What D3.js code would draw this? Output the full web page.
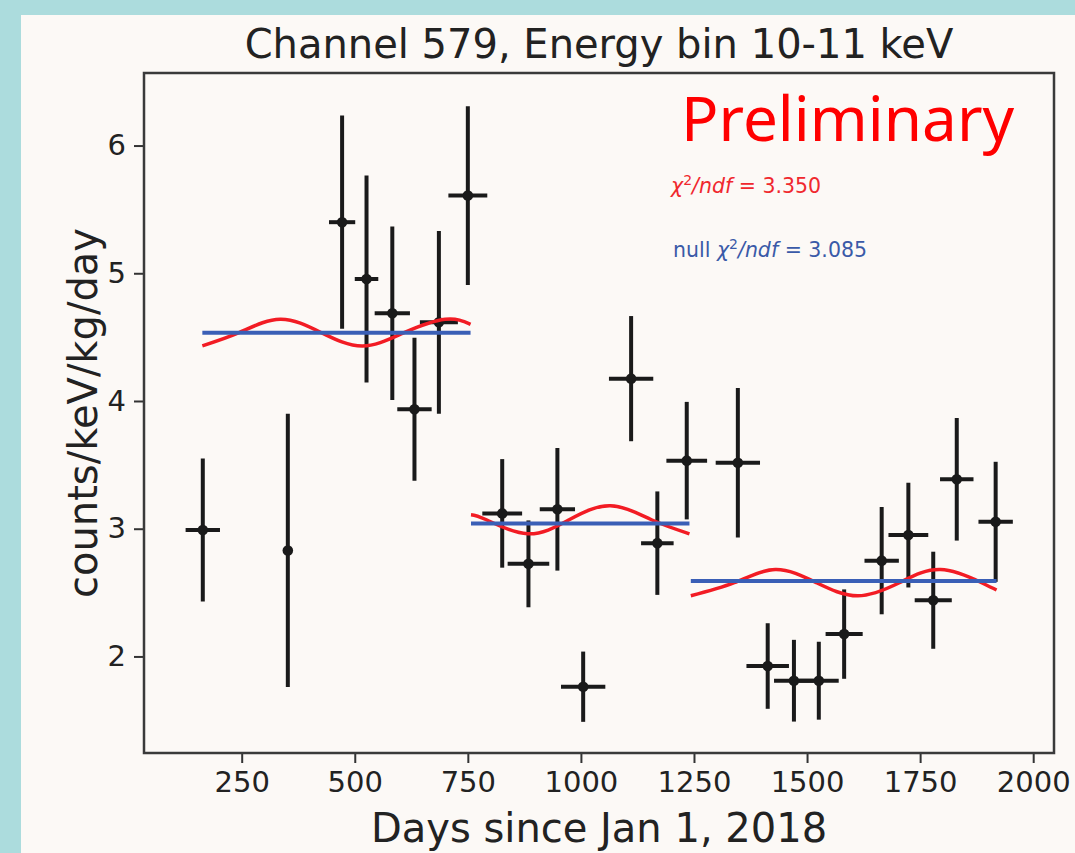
<!DOCTYPE html>
<html>
<head>
<meta charset="utf-8">
<script src="https://cdn.jsdelivr.net/npm/d3@7/dist/d3.min.js"></script>
<style>
  body { margin: 0; background: #acdcdd; }
</style>
</head>
<body>
<div class="center"></div>
<script>
// data points
const days    = [164, 352, 472, 526, 583, 632, 686, 750, 826, 884, 948, 1005, 1111, 1169, 1234, 1347, 1413, 1471, 1526, 1582, 1665, 1724, 1779, 1831, 1917];
const rate    = [2.99, 2.83, 5.40, 4.955, 4.687, 3.935, 4.616, 5.608, 3.12, 2.725, 3.152, 1.763, 4.175, 2.887, 3.533, 3.517, 1.925, 1.81, 1.81, 2.175, 2.75, 2.95, 2.44, 3.387, 3.054];
const dayErr  = [38, 0, 29, 26, 39, 38, 42, 43, 44, 46, 39, 49, 49, 36, 45, 49, 47, 44, 44, 41, 38, 44, 41, 37, 38];
const rateErr = [0.56, 1.07, 0.835, 0.81, 0.68, 0.56, 0.715, 0.70, 0.425, 0.34, 0.48, 0.275, 0.49, 0.405, 0.46, 0.585, 0.335, 0.32, 0.305, 0.35, 0.42, 0.41, 0.38, 0.48, 0.47];

// null hypothesis (flat) fit per period
const nullStart = [163, 757, 1243];
const nullEnd   = [756, 1240, 1919];
const nullLevel = [4.535, 3.04, 2.59];

// modulated fit, points
const modDays1 = [163, 244, 335, 426, 517, 609, 700, 756];
const modRate1 = [4.432, 4.535, 4.64, 4.535, 4.43, 4.535, 4.64, 4.60];
const modDays2 = [757, 791, 882, 974, 1065, 1156, 1240];
const modRate2 = [3.11, 3.07, 2.96, 3.07, 3.18, 3.07, 2.96];
const modDays3 = [1243, 1339, 1430, 1521, 1612, 1704, 1795, 1886, 1919];
const modRate3 = [2.475, 2.577, 2.68, 2.577, 2.475, 2.577, 2.68, 2.577, 2.52];

const xTicks = [250, 500, 750, 1000, 1250, 1500, 1750, 2000];
const yTicks = [2, 3, 4, 5, 6];

const margin = {top: 73, right: 21, bottom: 100, left: 144};
const width = 1075 - margin.left - margin.right;
const height = 853 - margin.top - margin.bottom;

const xScale = d3.scaleLinear().domain([34, 2046]).range([0, width]);
const yScale = d3.scaleLinear().domain([1.244, 6.568]).range([height, 0]);

const root = d3.select(".center").append("svg")
    .attr("width", 1075)
    .attr("height", 853)
    .style("display", "block");

// light teal border + off-white panel
root.append("rect").attr("width", 1075).attr("height", 853).style("fill", "#acdcdd");
root.append("rect").attr("x", 21).attr("y", 15).attr("width", 1054).attr("height", 838).style("fill", "#fcf9f6");

const svg = root.append("g")
    .attr("transform", `translate(${margin.left},${margin.top})`);

// axes
const xAxis = d3.axisBottom(xScale).tickValues(xTicks).tickSize(10).tickPadding(8).tickFormat(d3.format("d"));
const yAxis = d3.axisLeft(yScale).tickValues(yTicks).tickSize(10).tickPadding(8).tickFormat(d3.format("d"));

const gx = svg.append("g").attr("transform", `translate(0,${height})`).call(xAxis);
const gy = svg.append("g").call(yAxis);
[gx, gy].forEach(g => {
  g.select(".domain").remove();
  g.selectAll(".tick line").style("stroke", "#333").style("stroke-width", 2);
  g.selectAll(".tick text")
    .style("font-family", "DejaVu Sans")
    .style("font-size", "29px")
    .style("fill", "#222");
});

// error bars
const pts = days.map((d, i) => ({d: d, r: rate[i], dx: dayErr[i], dr: rateErr[i]}));
const bars = svg.append("g").style("stroke", "#1a1a1a").style("stroke-width", 4);
bars.selectAll(".vbar").data(pts).enter().append("line")
    .attr("x1", p => xScale(p.d)).attr("x2", p => xScale(p.d))
    .attr("y1", p => yScale(p.r - p.dr)).attr("y2", p => yScale(p.r + p.dr));
bars.selectAll(".hbar").data(pts.filter(p => p.dx > 0)).enter().append("line")
    .attr("x1", p => xScale(p.d - p.dx)).attr("x2", p => xScale(p.d + p.dx))
    .attr("y1", p => yScale(p.r)).attr("y2", p => yScale(p.r));
svg.append("g").selectAll("circle").data(pts).enter().append("circle")
    .attr("cx", p => xScale(p.d))
    .attr("cy", p => yScale(p.r))
    .attr("r", 5.3)
    .style("fill", "#1a1a1a");

// modulated fit (red)
const modLine = d3.line()
    .x(p => xScale(p[0]))
    .y(p => yScale(p[1]))
    .curve(d3.curveNatural);
[[modDays1, modRate1], [modDays2, modRate2], [modDays3, modRate3]].forEach(([dd, rr]) => {
  svg.append("path")
      .datum(dd.map((d, i) => [d, rr[i]]))
      .attr("d", modLine)
      .style("fill", "none")
      .style("stroke", "#f21c24")
      .style("stroke-width", 3.5);
});

// null fit (blue)
svg.append("g").selectAll("line").data(nullLevel).enter().append("line")
    .attr("x1", (v, i) => xScale(nullStart[i]))
    .attr("x2", (v, i) => xScale(nullEnd[i]))
    .attr("y1", v => yScale(v))
    .attr("y2", v => yScale(v))
    .style("stroke", "#3a5fb6")
    .style("stroke-width", 4);

// frame
svg.append("rect")
    .attr("width", width).attr("height", height)
    .style("fill", "none").style("stroke", "#3a3a3a").style("stroke-width", 2.5);

// texts
svg.append("text")
    .attr("x", width / 2).attr("y", 58 - margin.top)
    .attr("text-anchor", "middle")
    .style("font-family", "DejaVu Sans").style("font-size", "40px").style("fill", "#222")
    .text("Channel 579, Energy bin 10-11 keV");

svg.append("text")
    .attr("x", width / 2).attr("y", 842 - margin.top)
    .attr("text-anchor", "middle")
    .style("font-family", "DejaVu Sans").style("font-size", "40px").style("fill", "#222")
    .text("Days since Jan 1, 2018");

svg.append("text")
    .attr("transform", `translate(${97 - margin.left},${height / 2}) rotate(-90)`)
    .attr("text-anchor", "middle")
    .style("font-family", "DejaVu Sans").style("font-size", "40px").style("fill", "#222")
    .text("counts/keV/kg/day");

svg.append("text")
    .attr("x", 681 - margin.left).attr("y", 141 - margin.top)
    .style("font-family", "Noto Sans").style("font-size", "62px").style("fill", "#ff0000")
    .text("Preliminary");

function chiText(x, y, prefix, value, color) {
  const t = svg.append("text")
      .attr("x", x - margin.left).attr("y", y - margin.top)
      .style("font-family", "DejaVu Sans").style("font-size", "20.5px").style("fill", color);
  if (prefix) t.append("tspan").text(prefix);
  t.append("tspan").style("font-style", "italic").text("χ");
  t.append("tspan").attr("dy", -8).style("font-size", "14px").text("2");
  t.append("tspan").attr("dy", 8).style("font-style", "italic").text("/ndf");
  t.append("tspan").text(" = " + value);
}
chiText(671, 193, "", "3.350", "#f0282e");
chiText(673, 257, "null ", "3.085", "#3a5aa8");
</script>
</body>
</html>
